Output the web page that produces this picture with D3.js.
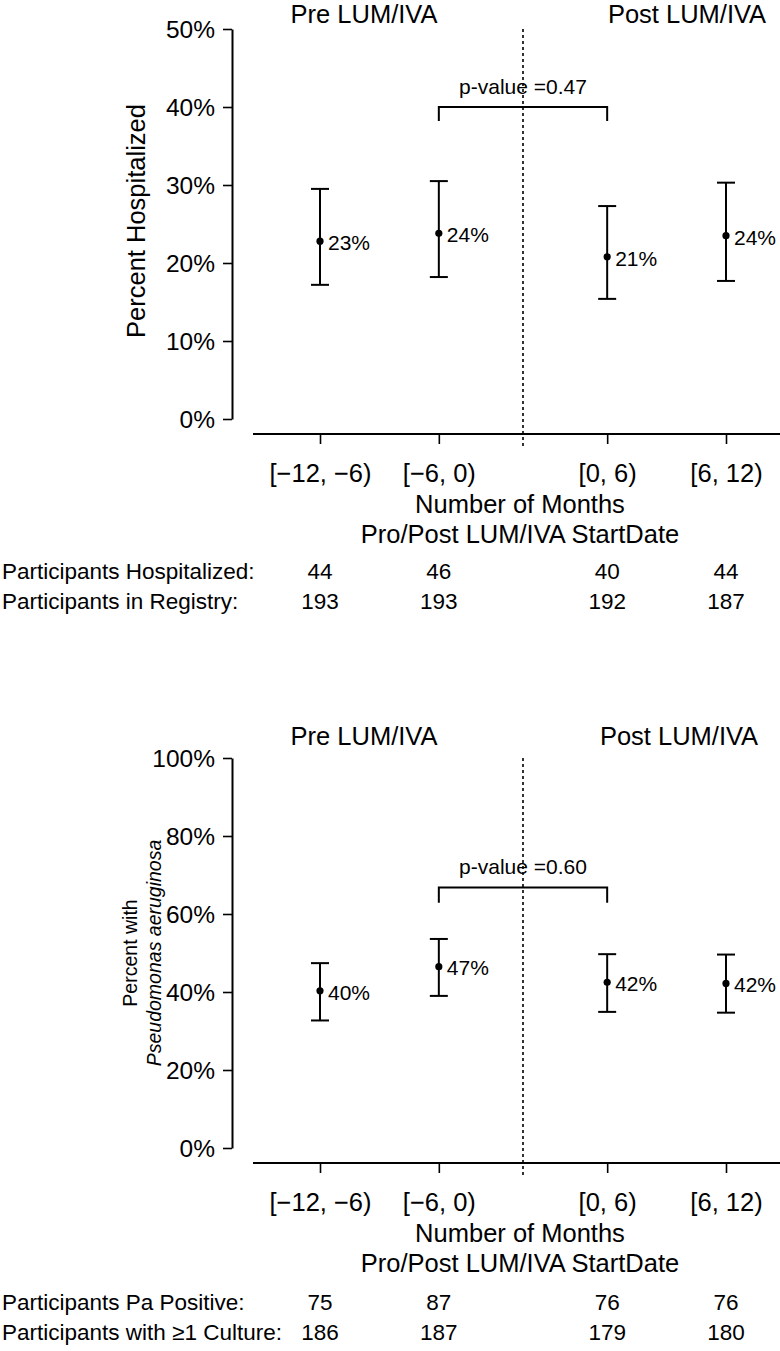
<!DOCTYPE html>
<html>
<head>
<meta charset="utf-8">
<script src="https://cdn.jsdelivr.net/npm/d3@7"></script>
<style>
  html, body { margin: 0; padding: 0; background: #fff; }
  svg { display: block; }
  text { font-family: "Liberation Sans", Arial, Helvetica, sans-serif; fill: #000; }
</style>
</head>
<body>
<script>
// ---------------- DATA ----------------
const categories = ["[\u221212, \u22126)", "[\u22126, 0)", "[0, 6)", "[6, 12)"];
// plotting position (months, with a visual gap at the LUM/IVA start)
const positions = [-9, -3, 5.5, 11.5];
const startLinePos = 1.25;

const hospPct = [22.8, 23.8, 20.8, 23.5];
const hospLo = [17.2, 18.2, 15.4, 17.7];
const hospHi = [29.5, 30.5, 27.3, 30.3];
const hospLabels = ["23%", "24%", "21%", "24%"];
const hospTicks = [0, 10, 20, 30, 40, 50];
const hospitalizedCounts = [44, 46, 40, 44];
const registryCounts = [193, 193, 192, 187];
const hospBracket = [40, 38.2];  // bracket top, leg bottom (%)
const hospPText = "p-value =0.47";

const paPct = [40.3, 46.5, 42.5, 42.2];
const paLo = [32.7, 39.0, 34.9, 34.7];
const paHi = [47.4, 53.6, 49.7, 49.6];
const paLabels = ["40%", "47%", "42%", "42%"];
const paTicks = [0, 20, 40, 60, 80, 100];
const paPositiveCounts = [75, 87, 76, 76];
const cultureCounts = [186, 187, 179, 180];
const paBracket = [66.8, 62.9];
const paPText = "p-value =0.60";

const bracketFrom = 1, bracketTo = 2; // indices compared

// ---------------- DRAW ----------------
const W = 780, H = 1351;
const svg = d3.select("body").append("svg").attr("width", W).attr("height", H);

const x = d3.scaleLinear().domain([-9, 11.5]).range([320, 726]);

function panel(cfg) {
  const g = svg.append("g").attr("transform", `translate(0,${cfg.top})`);
  const y = d3.scaleLinear().domain([0, cfg.ymax]).range([390, 0]);
  const axisY = 434 - 419; // gap between 0% and x-axis line

  // y axis
  const ya = g.append("g").attr("transform", "translate(232,0)")
    .call(d3.axisLeft(y).tickValues(cfg.ticks).tickFormat(d => d + "%")
      .tickSize(9).tickSizeOuter(0).tickPadding(8));
  ya.select(".domain").attr("stroke-width", 2);
  ya.selectAll(".tick line").attr("stroke-width", 1.6);
  ya.selectAll(".tick text").attr("font-size", 24.5).attr("font-family", "Liberation Sans").attr("dy", "0.36em");

  // x axis
  const xa = g.append("g").attr("transform", `translate(0,${390 + axisY})`)
    .call(d3.axisBottom(x).tickValues(positions).tickFormat((d, i) => categories[i])
      .tickSize(10).tickSizeOuter(0).tickPadding(20));
  xa.select(".domain").remove();
  xa.append("line").attr("x1", 253).attr("x2", 780).attr("y1", 0).attr("y2", 0)
    .attr("stroke", "#000").attr("stroke-width", 2);
  xa.selectAll(".tick line").attr("stroke-width", 1.6);
  xa.selectAll(".tick text").attr("font-size", 25.5).attr("font-family", "Liberation Sans");

  // dotted start line
  g.append("line").attr("x1", x(startLinePos)).attr("x2", x(startLinePos))
    .attr("y1", y(cfg.ymax)).attr("y2", 390 + axisY + 14)
    .attr("stroke", "#000").attr("stroke-width", 1.6).attr("stroke-dasharray", "3,3");

  // headers
  g.append("text").attr("x", 364).attr("y", cfg.headerY).attr("text-anchor", "middle")
    .attr("font-size", 25.5).text("Pre LUM/IVA");
  g.append("text").attr("x", cfg.postX).attr("y", cfg.headerY).attr("text-anchor", "middle")
    .attr("font-size", 25.5).text("Post LUM/IVA");

  // bracket + p-value
  const bx1 = x(positions[bracketFrom]), bx2 = x(positions[bracketTo]);
  g.append("path")
    .attr("d", `M${bx1},${y(cfg.bracket[1])}V${y(cfg.bracket[0])}H${bx2}V${y(cfg.bracket[1])}`)
    .attr("fill", "none").attr("stroke", "#000").attr("stroke-width", 2);
  g.append("text").attr("x", (bx1 + bx2) / 2).attr("y", y(cfg.bracket[0]) - 13.5)
    .attr("text-anchor", "middle").attr("font-size", 21).text(cfg.pText);

  // error bars
  const idx = d3.range(positions.length);
  const eb = g.append("g").selectAll("g").data(idx).join("g");
  eb.append("line").attr("x1", i => x(positions[i])).attr("x2", i => x(positions[i]))
    .attr("y1", i => y(cfg.lo[i])).attr("y2", i => y(cfg.hi[i]))
    .attr("stroke", "#000").attr("stroke-width", 2);
  eb.append("line").attr("x1", i => x(positions[i]) - 9).attr("x2", i => x(positions[i]) + 9)
    .attr("y1", i => y(cfg.hi[i])).attr("y2", i => y(cfg.hi[i]))
    .attr("stroke", "#000").attr("stroke-width", 2);
  eb.append("line").attr("x1", i => x(positions[i]) - 9).attr("x2", i => x(positions[i]) + 9)
    .attr("y1", i => y(cfg.lo[i])).attr("y2", i => y(cfg.lo[i]))
    .attr("stroke", "#000").attr("stroke-width", 2);
  eb.append("circle").attr("cx", i => x(positions[i])).attr("cy", i => y(cfg.pct[i]))
    .attr("r", 3.6).attr("fill", "#000");
  eb.append("text").attr("x", i => x(positions[i]) + 8).attr("y", i => y(cfg.pct[i]))
    .attr("dy", "0.42em").attr("font-size", 21).text(i => cfg.labels[i]);

  // x-axis title
  g.append("text").attr("x", 520).attr("y", 513 - 29).attr("text-anchor", "middle")
    .attr("font-size", 25.5).text("Number of Months");
  g.append("text").attr("x", 520).attr("y", 543 - 29).attr("text-anchor", "middle")
    .attr("font-size", 25.5).text("Pro/Post LUM/IVA StartDate");

  // count table
  cfg.rows.forEach((row, r) => {
    const yy = cfg.rowY[r];
    g.append("text").attr("x", 2).attr("y", yy).attr("font-size", 22.5).text(row.label);
    g.selectAll(null).data(row.values).join("text")
      .attr("x", (d, i) => x(positions[i])).attr("y", yy)
      .attr("text-anchor", "middle").attr("font-size", 22.5).text(d => d);
  });

  // y title
  cfg.ytitle(g, y);
}

panel({
  top: 29, ymax: 50, ticks: hospTicks,
  pct: hospPct, lo: hospLo, hi: hospHi, labels: hospLabels,
  bracket: hospBracket, pText: hospPText,
  headerY: 23 - 29, postX: 687,
  rowY: [579 - 29, 609 - 29],
  rows: [
    { label: "Participants Hospitalized:", values: hospitalizedCounts },
    { label: "Participants in Registry:", values: registryCounts }
  ],
  ytitle: g => g.append("text")
    .attr("transform", `translate(145,${221 - 29}) rotate(-90)`)
    .attr("text-anchor", "middle").attr("font-size", 25.5).text("Percent Hospitalized")
});

panel({
  top: 758, ymax: 100, ticks: paTicks,
  pct: paPct, lo: paLo, hi: paHi, labels: paLabels,
  bracket: paBracket, pText: paPText,
  headerY: 745 - 758, postX: 679,
  rowY: [1310 - 758, 1340 - 758],
  rows: [
    { label: "Participants Pa Positive:", values: paPositiveCounts },
    { label: "Participants with \u22651 Culture:", values: cultureCounts }
  ],
  ytitle: (g, y) => {
    const cy = (y(0) + y(100)) / 2;
    g.append("text")
      .attr("transform", `translate(137,${cy}) rotate(-90)`)
      .attr("text-anchor", "middle").attr("font-size", 19.5).text("Percent with");
    g.append("text")
      .attr("transform", `translate(161,${cy}) rotate(-90)`)
      .attr("text-anchor", "middle").attr("font-size", 19.5).attr("font-style", "italic")
      .text("Pseudomonas aeruginosa");
  }
});
</script>
</body>
</html>
